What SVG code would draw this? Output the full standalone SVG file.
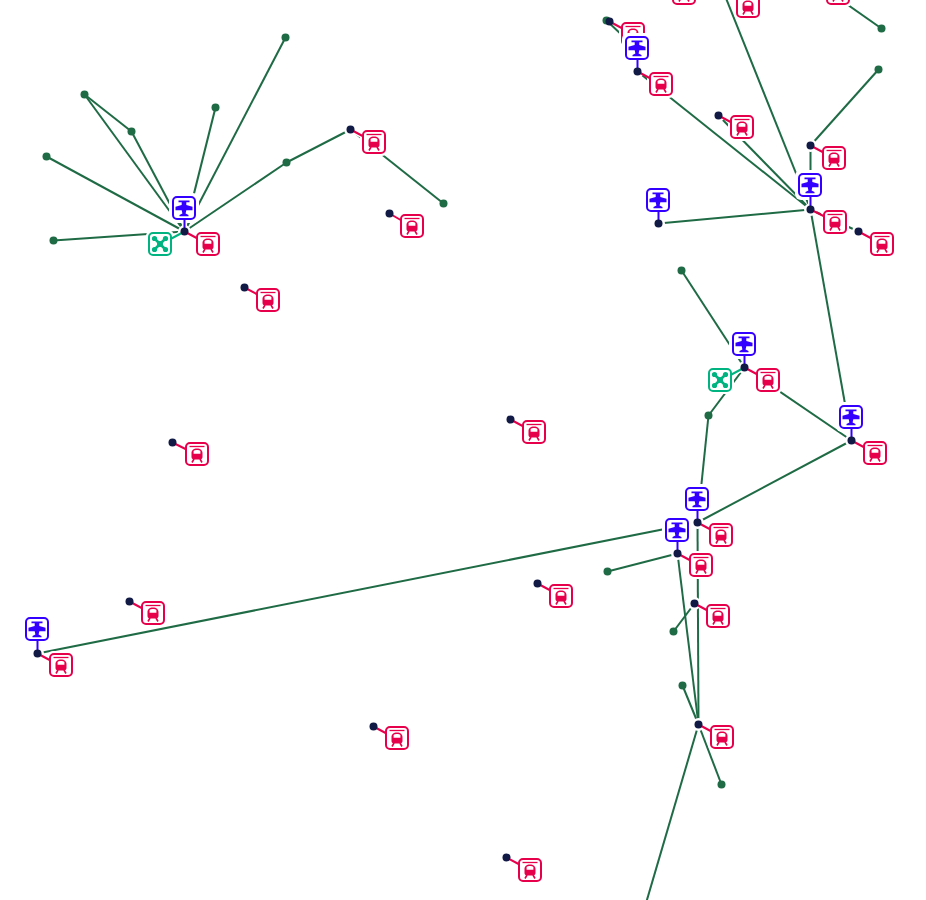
<svg xmlns="http://www.w3.org/2000/svg" xmlns:xlink="http://www.w3.org/1999/xlink" width="926" height="900" viewBox="0 0 926 900">
<style>
.bg{fill:#fff}
.e line{stroke:#1f6b45;stroke-width:2;fill:none}
.t{fill:#1f6b45}
.d{fill:#101a45}
.w{fill:#fff}
.h{stroke:#fff;stroke-width:5;fill:none}
.ps{stroke:#3300ff;stroke-width:2}
.rs{stroke:#e6004c;stroke-width:2}
.gs{stroke:#00b380;stroke-width:2}
.halo{fill:#fff}
.fr{fill:#fff;stroke-width:2}
</style>
<defs>
<g id="plane" transform="translate(-0.500 -0.500)">
<rect class="halo" x="-15" y="-15" width="30" height="30" rx="6"/>
<rect class="fr" x="-11" y="-11" width="22" height="22" rx="4" stroke="#3300ff"/>
<path fill="#3300ff" d="M-5.500-7.500H5.500V-5.800H2.300V-3L8.500-1.300V2.300H2.300L1.600 5.500L4.500 7V8.300H-4.500V7L-1.600 5.500L-2.300 2.300H-8.500V-1.300L-2.300-3V-5.800H-5.500Z"/>
</g>
<g id="drone" transform="translate(-0.500 -0.500)">
<rect class="halo" x="-14" y="-14" width="28" height="28" rx="6"/>
<rect class="fr" x="-11" y="-11" width="22" height="22" rx="4" stroke="#00b380"/>
<path stroke="#00b380" stroke-width="2.600" d="M-5-5L5 5M5-5L-5 5"/>
<circle r="3" fill="#00b380"/>
<g fill="#00b380"><circle cx="-5.500" cy="-5.500" r="2.600"/><circle cx="5.500" cy="-5.500" r="2.600"/><circle cx="-5.500" cy="5.500" r="2.600"/><circle cx="5.500" cy="5.500" r="2.600"/></g>
</g>
<g id="train" transform="translate(-0.500 -0.500)">
<rect class="halo" x="-14" y="-14" width="28" height="28" rx="6"/>
<rect class="fr" x="-11" y="-11" width="22" height="22" rx="4" stroke="#e6004c"/>
<path fill="none" stroke="#e6004c" stroke-width="1.300" d="M-7.500-7.500H7.500"/>
<path fill="#e6004c" fill-rule="evenodd" d="M0-5.500C3.500-5.500 5.500-3.500 5.500-1V3C5.500 4.500 4.500 5.500 3 5.500H-3C-4.500 5.500-5.500 4.500-5.500 3V-1C-5.500-3.500-3.500-5.500 0-5.500ZM-3.400-3V-.2H3.400V-3C2-4.200-2-4.200-3.400-3Z"/>
<path stroke="#e6004c" stroke-width="1.600" d="M-3 5L-5 8.500M3 5L5 8.500"/>
</g>
</defs>
<rect class="bg" width="926" height="900"/>
<g transform="translate(0.500 0.500)">
<g id="connectors" class="e">
<line x1="84" y1="94" x2="131" y2="131"/>
<line x1="84" y1="94" x2="184" y2="231"/>
<line x1="131" y1="131" x2="184" y2="231"/>
<line x1="215" y1="107" x2="184" y2="231"/>
<line x1="285" y1="37" x2="184" y2="231"/>
<line x1="46" y1="156" x2="184" y2="231"/>
<line x1="53" y1="240" x2="184" y2="231"/>
<line x1="286" y1="162" x2="184" y2="231"/>
<line x1="286" y1="162" x2="350" y2="129"/>
<line x1="350" y1="129" x2="443" y2="203"/>
<line x1="606" y1="20" x2="640" y2="52"/>
<line x1="637" y1="71" x2="810" y2="209"/>
<line x1="718" y1="115" x2="810" y2="209"/>
<line x1="724" y1="-6" x2="810" y2="209"/>
<line x1="810" y1="145" x2="878" y2="69"/>
<line x1="810" y1="145" x2="810" y2="209"/>
<line x1="658" y1="223" x2="810" y2="209"/>
<line x1="810" y1="209" x2="851" y2="440"/>
<line x1="858" y1="231" x2="810" y2="209"/>
<line x1="814" y1="-19" x2="881" y2="28"/>
<line x1="681" y1="270" x2="744" y2="367"/>
<line x1="708" y1="415" x2="744" y2="367"/>
<line x1="744" y1="367" x2="851" y2="440"/>
<line x1="851" y1="440" x2="697" y2="522"/>
<line x1="708" y1="415" x2="697" y2="522"/>
<line x1="697" y1="522" x2="698" y2="724"/>
<line x1="37" y1="653" x2="697" y2="522"/>
<line x1="607" y1="571" x2="677" y2="553"/>
<line x1="677" y1="553" x2="698" y2="724"/>
<line x1="694" y1="603" x2="673" y2="631"/>
<line x1="682" y1="685" x2="698" y2="724"/>
<line x1="698" y1="724" x2="721" y2="784"/>
<line x1="698" y1="724" x2="636" y2="935"/>
</g>
<g id="terminals" class="t">
<circle cx="285" cy="37" r="4"/><circle cx="84" cy="94" r="4"/><circle cx="131" cy="131" r="4"/><circle cx="215" cy="107" r="4"/><circle cx="46" cy="156" r="4"/><circle cx="53" cy="240" r="4"/><circle cx="286" cy="162" r="4"/><circle cx="443" cy="203" r="4"/><circle cx="606" cy="20" r="4"/><circle cx="878" cy="69" r="4"/><circle cx="881" cy="28" r="4"/><circle cx="681" cy="270" r="4"/><circle cx="708" cy="415" r="4"/><circle cx="607" cy="571" r="4"/><circle cx="673" cy="631" r="4"/><circle cx="682" cy="685" r="4"/><circle cx="721" cy="784" r="4"/>
</g>
<g id="n1"><circle class="w" cx="184" cy="231" r="6.500"/><line class="h" x1="184" y1="231" x2="184" y2="208"/><line class="h" x1="184" y1="231" x2="160" y2="244"/><line class="h" x1="184" y1="231" x2="208" y2="244"/><use href="#plane" x="184" y="208"/><use href="#drone" x="160" y="244"/><use href="#train" x="208" y="244"/><line class="ps" x1="184" y1="231" x2="184" y2="219"/><line class="gs" x1="184" y1="231" x2="171" y2="238"/><line class="rs" x1="184" y1="231" x2="197" y2="238"/><circle class="d" cx="184" cy="231" r="4"/></g>
<g id="n2"><circle class="w" cx="244" cy="287" r="6.500"/><use href="#train" x="268" y="300"/><line class="rs" x1="244" y1="287" x2="257" y2="294"/><circle class="d" cx="244" cy="287" r="4"/></g>
<g id="n3"><circle class="w" cx="172" cy="442" r="6.500"/><use href="#train" x="197" y="454"/><line class="rs" x1="172" y1="442" x2="186" y2="449"/><circle class="d" cx="172" cy="442" r="4"/></g>
<g id="n4"><circle class="w" cx="389" cy="213" r="6.500"/><use href="#train" x="412" y="226"/><line class="rs" x1="389" y1="213" x2="401" y2="220"/><circle class="d" cx="389" cy="213" r="4"/></g>
<g id="n5"><circle class="w" cx="350" cy="129" r="6.500"/><line class="h" x1="350" y1="129" x2="374" y2="142"/><use href="#train" x="374" y="142"/><line class="rs" x1="350" y1="129" x2="363" y2="136"/><circle class="d" cx="350" cy="129" r="4"/></g>
<g id="n6"><circle class="w" cx="510" cy="419" r="6.500"/><use href="#train" x="534" y="432"/><line class="rs" x1="510" y1="419" x2="523" y2="426"/><circle class="d" cx="510" cy="419" r="4"/></g>
<g id="n7"><circle class="w" cx="537" cy="583" r="6.500"/><use href="#train" x="561" y="596"/><line class="rs" x1="537" y1="583" x2="550" y2="590"/><circle class="d" cx="537" cy="583" r="4"/></g>
<g id="n8"><circle class="w" cx="129" cy="601" r="6.500"/><use href="#train" x="153" y="613"/><line class="rs" x1="129" y1="601" x2="142" y2="608"/><circle class="d" cx="129" cy="601" r="4"/></g>
<g id="n9"><circle class="w" cx="37" cy="653" r="6.500"/><use href="#plane" x="37" y="629"/><use href="#train" x="61" y="665"/><line class="ps" x1="37" y1="653" x2="37" y2="640"/><line class="rs" x1="37" y1="653" x2="50" y2="660"/><circle class="d" cx="37" cy="653" r="4"/></g>
<g id="n10"><circle class="w" cx="373" cy="726" r="6.500"/><use href="#train" x="397" y="738"/><line class="rs" x1="373" y1="726" x2="386" y2="733"/><circle class="d" cx="373" cy="726" r="4"/></g>
<g id="n11"><circle class="w" cx="506" cy="857" r="6.500"/><use href="#train" x="530" y="870"/><line class="rs" x1="506" y1="857" x2="519" y2="864"/><circle class="d" cx="506" cy="857" r="4"/></g>
<g id="n12"><use href="#train" x="633" y="34"/><line class="rs" x1="609" y1="21" x2="622" y2="28"/><circle class="d" cx="609" cy="21" r="4"/></g>
<g id="n13"><circle class="w" cx="637" cy="71" r="6.500"/><use href="#train" x="661" y="84"/><use href="#plane" x="637" y="48"/><line class="ps" x1="637" y1="71" x2="637" y2="59"/><line class="rs" x1="637" y1="71" x2="650" y2="78"/><circle class="d" cx="637" cy="71" r="4"/></g>
<g id="n14"><circle class="w" cx="718" cy="115" r="6.500"/><use href="#train" x="742" y="127"/><line class="rs" x1="718" y1="115" x2="731" y2="122"/><circle class="d" cx="718" cy="115" r="4"/></g>
<g id="n15"><circle class="w" cx="658" cy="223" r="6.500"/><use href="#plane" x="658" y="200"/><line class="ps" x1="658" y1="223" x2="658" y2="211"/><circle class="d" cx="658" cy="223" r="4"/></g>
<g id="n16"><circle class="w" cx="810" cy="145" r="6.500"/><use href="#train" x="834" y="158"/><line class="rs" x1="810" y1="145" x2="823" y2="152"/><circle class="d" cx="810" cy="145" r="4"/></g>
<g id="n17"><circle class="w" cx="810" cy="209" r="6.500"/><line class="h" x1="810" y1="209" x2="810" y2="185"/><use href="#plane" x="810" y="185"/><use href="#train" x="835" y="222"/><line class="ps" x1="810" y1="209" x2="810" y2="196"/><line class="rs" x1="810" y1="209" x2="824" y2="216"/><circle class="d" cx="810" cy="209" r="4"/></g>
<g id="n18"><circle class="w" cx="858" cy="231" r="6.500"/><use href="#train" x="882" y="244"/><line class="rs" x1="858" y1="231" x2="871" y2="238"/><circle class="d" cx="858" cy="231" r="4"/></g>
<g id="n19"><circle class="w" cx="744" cy="367" r="6.500"/><line class="h" x1="744" y1="367" x2="744" y2="344"/><line class="h" x1="744" y1="367" x2="720" y2="380"/><line class="h" x1="744" y1="367" x2="768" y2="380"/><use href="#plane" x="744" y="344"/><use href="#drone" x="720" y="380"/><use href="#train" x="768" y="380"/><line class="ps" x1="744" y1="367" x2="744" y2="355"/><line class="gs" x1="744" y1="367" x2="731" y2="374"/><line class="rs" x1="744" y1="367" x2="757" y2="374"/><circle class="d" cx="744" cy="367" r="4"/></g>
<g id="n20"><circle class="w" cx="851" cy="440" r="6.500"/><line class="h" x1="851" y1="440" x2="851" y2="417"/><use href="#plane" x="851" y="417"/><use href="#train" x="875" y="453"/><line class="ps" x1="851" y1="440" x2="851" y2="428"/><line class="rs" x1="851" y1="440" x2="864" y2="447"/><circle class="d" cx="851" cy="440" r="4"/></g>
<g id="n21"><circle class="w" cx="697" cy="522" r="6.500"/><line class="h" x1="697" y1="522" x2="697" y2="499"/><use href="#plane" x="697" y="499"/><use href="#train" x="721" y="535"/><line class="ps" x1="697" y1="522" x2="697" y2="510"/><line class="rs" x1="697" y1="522" x2="710" y2="529"/><circle class="d" cx="697" cy="522" r="4"/></g>
<g id="n22"><circle class="w" cx="677" cy="553" r="6.500"/><use href="#plane" x="677" y="530"/><use href="#train" x="701" y="565"/><line class="ps" x1="677" y1="553" x2="677" y2="541"/><line class="rs" x1="677" y1="553" x2="690" y2="560"/><circle class="d" cx="677" cy="553" r="4"/></g>
<g id="n23"><circle class="w" cx="694" cy="603" r="6.500"/><use href="#train" x="718" y="616"/><line class="rs" x1="694" y1="603" x2="707" y2="610"/><circle class="d" cx="694" cy="603" r="4"/></g>
<g id="n24"><circle class="w" cx="698" cy="724" r="6.500"/><use href="#train" x="722" y="737"/><line class="rs" x1="698" y1="724" x2="711" y2="731"/><circle class="d" cx="698" cy="724" r="4"/></g>
<g id="n25"><use href="#train" x="684" y="-7"/></g>
<g id="n26"><use href="#train" x="748" y="6"/></g>
<g id="n27"><use href="#train" x="838" y="-7"/></g>
</g>
</svg>
